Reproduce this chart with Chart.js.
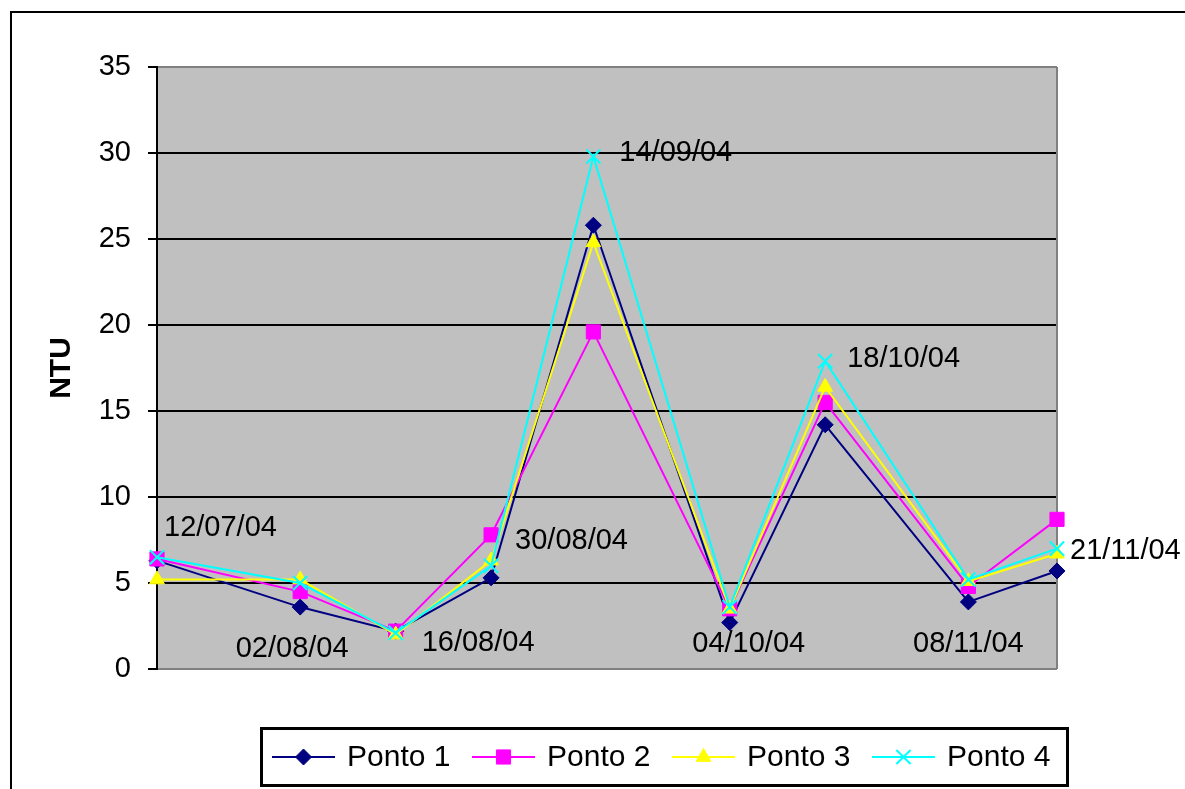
<!DOCTYPE html>
<html>
<head>
<meta charset="utf-8">
<title>Turbidez (NTU)</title>
<script src="https://cdn.jsdelivr.net/npm/chart.js@4.4.1/dist/chart.umd.min.js"></script>
<style>
  html, body { margin: 0; padding: 0; background: #ffffff; }
  #wrap { width: 1185px; height: 789px; position: relative; }
  canvas { display: block; }
</style>
</head>
<body>
<div id="wrap"><canvas id="chart" width="1185" height="789"></canvas></div>
<script>
// Sampling dates (dd/mm/yy)
const dates = ['12/07/04', '02/08/04', '16/08/04', '30/08/04', '14/09/04', '04/10/04', '18/10/04', '08/11/04', '21/11/04'];

// Turbidity per sampling point (NTU)
const ponto1 = [6.3, 3.6, 2.2, 5.3, 25.8, 2.7, 14.2, 3.9, 5.7];
const ponto2 = [6.4, 4.5, 2.2, 7.8, 19.6, 3.5, 15.5, 4.8, 8.7];
const ponto3 = [5.2, 5.2, 2.0, 6.3, 24.8, 3.5, 16.4, 5.1, 6.7];
const ponto4 = [6.5, 5.0, 2.1, 6.0, 29.8, 3.6, 17.9, 5.2, 7.0];

// Y axis tick values
const yTicks = [0, 5, 10, 15, 20, 25, 30, 35];

// Days elapsed since the first sampling date (time-proportional x axis)
function toDay(s) {
  const [d, m, y] = s.split('/').map(Number);
  return Date.UTC(2000 + y, m - 1, d) / 86400000;
}
const day0 = toDay(dates[0]);
const days = dates.map(s => toDay(s) - day0);

const FONT = "'Liberation Sans', Arial, sans-serif";

// Placement of each date label relative to the Ponto 4 marker
const labelPlacement = [
  { dx: 7,  dy: -29, align: 'left' },
  { dx: -8, dy: 66,  align: 'center' },
  { dx: 26, dy: 10,  align: 'left' },
  { dx: 24, dy: -25, align: 'left' },
  { dx: 26, dy: -3,  align: 'left' },
  { dx: 19, dy: 37,  align: 'center' },
  { dx: 22, dy: -2,  align: 'left' },
  { dx: 0,  dy: 64,  align: 'center' },
  { dx: 13, dy: 2,   align: 'left' }
];

function series(label, values, color, style, radius, order) {
  return {
    label,
    data: values.map((v, i) => ({ x: days[i], y: v })),
    borderColor: color,
    backgroundColor: color,
    borderWidth: 2,
    pointStyle: style,
    pointRadius: radius,
    pointHoverRadius: radius,
    pointBackgroundColor: color,
    pointBorderColor: color,
    pointBorderWidth: style === 'crossRot' ? 2 : 1,
    tension: 0,
    clip: false,
    order
  };
}

const datasets = [
  series('Ponto 1', ponto1, '#000080', 'rectRot', 8, 4),
  series('Ponto 2', ponto2, '#FF00FF', 'rect', 10, 3),
  series('Ponto 3', ponto3, '#FFFF00', 'triangle', 8.5, 2),
  series('Ponto 4', ponto4, '#00FFFF', 'crossRot', 10, 1)
];

// Frame, grey plot background and plot border
const framePlugin = {
  id: 'frame',
  beforeDraw(chart) {
    const { ctx, chartArea: a } = chart;
    ctx.save();
    ctx.fillStyle = '#ffffff';
    ctx.fillRect(0, 0, chart.width, chart.height);
    ctx.fillStyle = '#000000';
    ctx.fillRect(10, 11, chart.width - 10, 2);
    ctx.fillRect(10, 11, 2, chart.height - 11);
    ctx.fillStyle = '#C0C0C0';
    ctx.fillRect(a.left, a.top, a.right - a.left, a.bottom - a.top);
    ctx.restore();
  },
  beforeDatasetsDraw(chart) {
    const { ctx, chartArea: a } = chart;
    ctx.save();
    ctx.strokeStyle = '#808080';
    ctx.lineWidth = 2;
    ctx.beginPath();
    ctx.moveTo(a.right, a.top);
    ctx.lineTo(a.right, a.bottom);
    ctx.stroke();
    ctx.restore();
  }
};

// Date labels beside the markers
const dateLabelPlugin = {
  id: 'dateLabels',
  afterDatasetsDraw(chart) {
    const { ctx, scales: { x, y } } = chart;
    ctx.save();
    ctx.font = '29px ' + FONT;
    ctx.fillStyle = '#000000';
    ctx.textBaseline = 'middle';
    dates.forEach((d, i) => {
      const p = labelPlacement[i];
      ctx.textAlign = p.align;
      ctx.fillText(d, x.getPixelForValue(days[i]) + p.dx, y.getPixelForValue(ponto4[i]) + p.dy);
    });
    ctx.restore();
  }
};

// Boxed legend with line + marker samples
const boxLegendPlugin = {
  id: 'boxLegend',
  afterDraw(chart) {
    const { ctx } = chart;
    const box = { x: 260, y: 727, w: 809, h: 60 };
    ctx.save();
    ctx.strokeStyle = '#000000';
    ctx.lineWidth = 3;
    ctx.strokeRect(box.x + 1.5, box.y + 1.5, box.w - 3, box.h - 3);
    const cy = box.y + box.h / 2;
    ctx.font = '30px ' + FONT;
    ctx.textBaseline = 'middle';
    ctx.textAlign = 'left';
    chart.data.datasets.forEach((ds, i) => {
      const x0 = 272 + i * 200;
      const x1 = x0 + 63;
      ctx.strokeStyle = ds.borderColor;
      ctx.lineWidth = 2;
      ctx.beginPath();
      ctx.moveTo(x0, cy);
      ctx.lineTo(x1, cy);
      ctx.stroke();
      ctx.fillStyle = ds.pointBackgroundColor;
      ctx.strokeStyle = ds.pointBorderColor;
      ctx.lineWidth = ds.pointBorderWidth;
      Chart.helpers.drawPoint(ctx, { pointStyle: ds.pointStyle, radius: ds.pointRadius, rotation: 0, borderWidth: ds.pointBorderWidth }, (x0 + x1) / 2, cy);
      ctx.fillStyle = '#000000';
      ctx.fillText(ds.label, x1 + 12, cy + 1);
    });
    ctx.restore();
  }
};

new Chart(document.getElementById('chart'), {
  type: 'line',
  data: { datasets },
  options: {
    responsive: false,
    animation: false,
    devicePixelRatio: 1,
    layout: { padding: { left: 0, top: 67, right: 128, bottom: 120 } },
    plugins: {
      legend: { display: false },
      tooltip: { enabled: false }
    },
    scales: {
      x: {
        type: 'linear',
        min: days[0],
        max: days[days.length - 1],
        display: false
      },
      y: {
        min: yTicks[0],
        max: yTicks[yTicks.length - 1],
        afterBuildTicks(scale) {
          scale.ticks = yTicks.map(v => ({ value: v }));
        },
        afterFit(scale) { scale.width = 157; },
        border: { color: '#000000', width: 2 },
        grid: {
          lineWidth: 2,
          color: ctx => (ctx.tick && (ctx.tick.value === yTicks[0] || ctx.tick.value === yTicks[yTicks.length - 1])) ? '#808080' : '#000000',
          tickColor: '#000000',
          tickLength: 9,
          drawTicks: true
        },
        ticks: {
          color: '#000000',
          padding: 17,
          font: { family: FONT, size: 29 }
        },
        title: {
          display: true,
          text: 'NTU',
          color: '#000000',
          font: { family: FONT, size: 30, weight: 'bold' },
          padding: { top: 44, bottom: 0 }
        }
      }
    }
  },
  plugins: [framePlugin, dateLabelPlugin, boxLegendPlugin]
});
</script>
</body>
</html>
